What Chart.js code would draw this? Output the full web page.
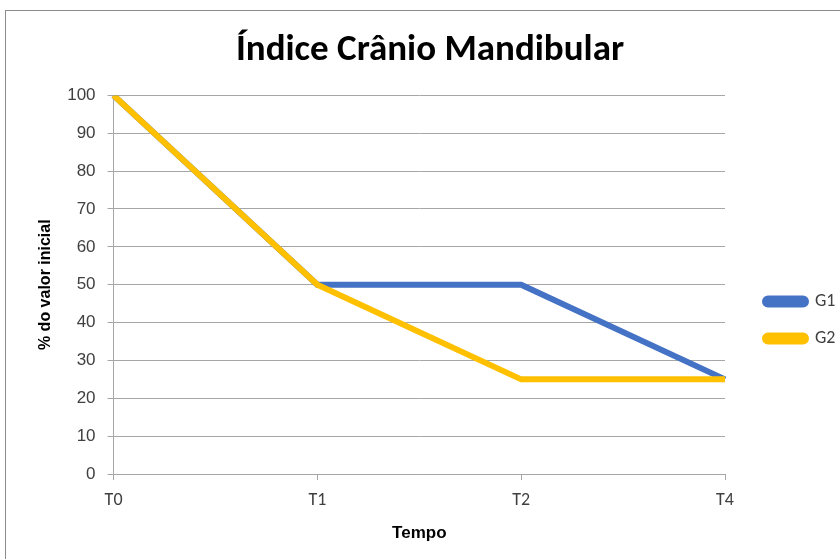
<!DOCTYPE html>
<html>
<head>
<meta charset="utf-8">
<script src="https://cdn.jsdelivr.net/npm/chart.js@4.4.0/dist/chart.umd.min.js"></script>
<style>
  body { margin: 0; background: #fff; }
  #wrap { position: relative; width: 840px; height: 559px; overflow: hidden; }
  #frame { position: absolute; left: 5px; top: 10px; width: 900px; height: 600px; border: 1px solid #8c8c8c; box-sizing: border-box; }
  canvas { position: absolute; left: 0; top: 0; }
</style>
</head>
<body>
<div id="wrap">
  <div id="frame"></div>
  <canvas id="chart" width="840" height="559"></canvas>
</div>
<script>
// data
const categories = ["T0", "T1", "T2", "T4"];
const g1Values = [100, 50, 50, 25];
const g2Values = [100, 50, 25, 25];
const seriesNames = ["G1", "G2"];

const CALIBRI = "Carlito, 'Liberation Sans Narrow', 'Liberation Sans', sans-serif";
const ARIAL = "'Liberation Sans', Arial, sans-serif";
Chart.defaults.font.family = CALIBRI;
Chart.defaults.color = "#404040";

// empty axis used only to reserve space
function spacer(position, width, weight) {
    return {
        type: "linear",
        position: position,
        weight: weight,
        display: true,
        grid: { display: false },
        border: { display: false },
        ticks: { display: false },
        afterFit: (scale) => { scale.width = width; }
    };
}

new Chart(document.getElementById("chart"), {
    type: "line",
    data: {
        labels: categories,
        datasets: [
            {
                label: seriesNames[0],
                data: g1Values,
                borderColor: "#4472C4",
                backgroundColor: "#4472C4",
                borderWidth: 6,
                pointRadius: 0,
                order: 2
            },
            {
                label: seriesNames[1],
                data: g2Values,
                borderColor: "#FFC000",
                backgroundColor: "#FFC000",
                borderWidth: 6,
                pointRadius: 0,
                order: 1 // drawn on top of G1, like the original
            }
        ]
    },
    options: {
        responsive: false,
        animation: false,
        layout: { padding: { left: 24, right: 4, top: 10, bottom: 15 } },
        plugins: {
            title: {
                display: true,
                text: "Índice Crânio Mandibular",
                color: "#000",
                font: { size: 37, weight: "bold" },
                padding: { top: 19, bottom: 22 }
            },
            legend: {
                position: "right",
                maxWidth: 90,
                // empty title only pushes the items down a bit
                title: { display: true, text: " ", font: { size: 10 }, padding: { top: 74, bottom: 0 } },
                labels: {
                    boxWidth: 41,
                    boxHeight: 6,
                    useBorderRadius: true,
                    borderRadius: 3,
                    padding: 19,
                    color: "#404040",
                    font: { size: 18 },
                    sort: (a, b) => a.datasetIndex - b.datasetIndex
                }
            },
            tooltip: { enabled: false }
        },
        scales: {
            x: {
                grid: { drawOnChartArea: false, drawTicks: true, tickLength: 6, color: "#a6a6a6" },
                border: { color: "#a6a6a6" },
                ticks: { padding: 10, font: { size: 18 }, color: "#404040" },
                title: { display: true, text: "Tempo", color: "#000", font: { family: ARIAL, size: 17, weight: "bold" }, padding: { top: 2, bottom: 0 } }
            },
            y: {
                min: 0,
                max: 100,
                ticks: { stepSize: 10, padding: 12, font: { family: ARIAL, size: 17 }, color: "#404040" },
                grid: { color: "#a6a6a6", tickLength: 6 },
                border: { color: "#a6a6a6" },
                title: { display: true, text: "% do valor inicial", color: "#000", font: { family: ARIAL, size: 16, weight: "bold" }, padding: { top: 0, bottom: 0 } }
            },
            padLeft: spacer("left", 12, 10),
            gap: spacer("right", 21, 0)
        }
    }
});
</script>
</body>
</html>
